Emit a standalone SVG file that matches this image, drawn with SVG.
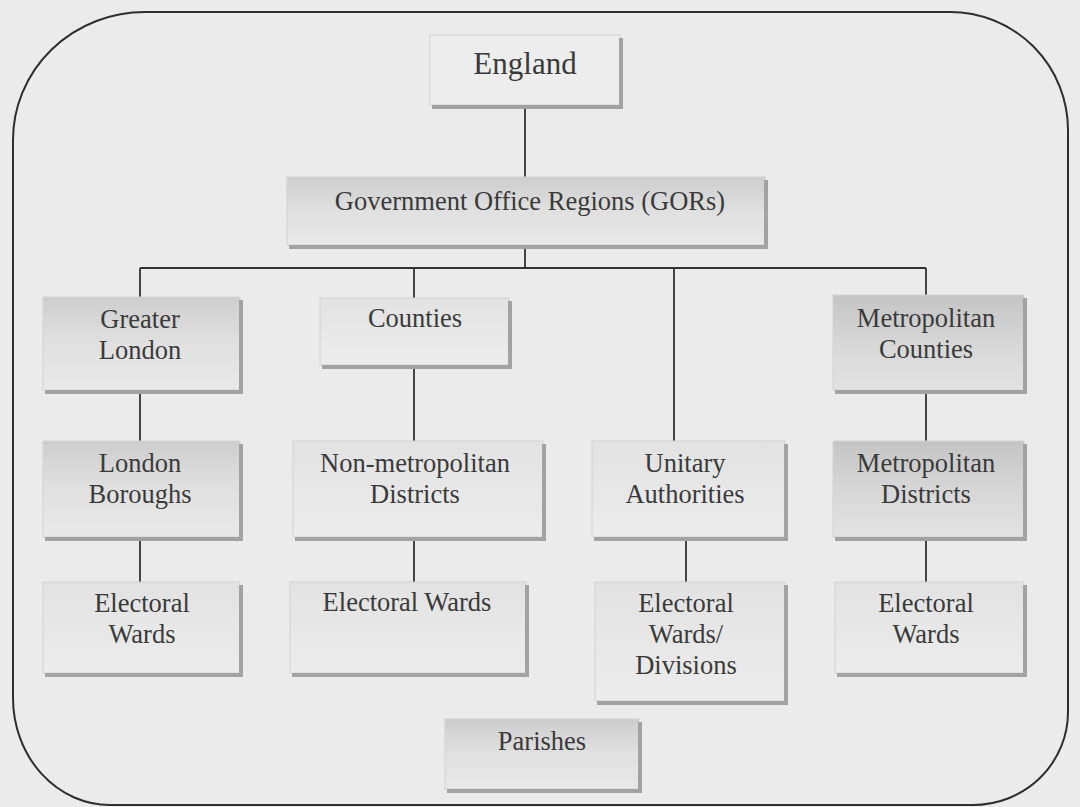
<svg xmlns="http://www.w3.org/2000/svg" width="1080" height="807" viewBox="0 0 1080 807">
  <style>
    .bg { fill: #ebebeb; }
    .frame { fill: none; stroke: #2e2e2e; stroke-width: 2; }
    .body { stroke: #d2d2d2; stroke-width: 1; }
    .shade { fill: none; stroke: #a2a2a2; stroke-width: 4; }
    .lbl { font-family: "Liberation Serif", "Times New Roman", serif; font-size: 26.5px; fill: #3a3a3a; text-anchor: middle; }
    .big { font-size: 31px; }
    .wire { stroke: #333333; stroke-width: 1.8; fill: none; }
  </style>
  <defs>
    <linearGradient id="gDark" x1="0" y1="0" x2="0" y2="1">
      <stop offset="0" stop-color="#c4c4c4"/>
      <stop offset="0.55" stop-color="#d8d8d8"/>
      <stop offset="1" stop-color="#e2e2e2"/>
    </linearGradient>
    <linearGradient id="gMid" x1="0" y1="0" x2="0" y2="1">
      <stop offset="0" stop-color="#cdcdcd"/>
      <stop offset="0.5" stop-color="#e0e0e0"/>
      <stop offset="1" stop-color="#e8e8e8"/>
    </linearGradient>
    <linearGradient id="gLight" x1="0" y1="0" x2="0" y2="1">
      <stop offset="0" stop-color="#e2e2e2"/>
      <stop offset="1" stop-color="#ececec"/>
    </linearGradient>
  </defs>

  <rect class="bg" x="0" y="0" width="1080" height="807"/>

  <!-- rounded outer frame -->
  <path class="frame" d="M 13 140 A 132 128 0 0 1 145 12 L 950 12 A 118 118 0 0 1 1068 130 L 1068 712 A 95 93 0 0 1 973 805 L 110 805 A 97 107 0 0 1 13 698 Z"/>

  <!-- connectors -->
  <g id="connectors">
    <line class="wire" x1="525" y1="108" x2="525" y2="177"/>
    <line class="wire" x1="525" y1="248" x2="525" y2="268"/>
    <line class="wire" x1="140" y1="268" x2="926" y2="268"/>
    <line class="wire" x1="140" y1="268" x2="140" y2="297"/>
    <line class="wire" x1="414" y1="268" x2="414" y2="298"/>
    <line class="wire" x1="674" y1="268" x2="674" y2="441"/>
    <line class="wire" x1="926" y1="268" x2="926" y2="295"/>
    <line class="wire" x1="140" y1="393" x2="140" y2="441"/>
    <line class="wire" x1="414" y1="368" x2="414" y2="441"/>
    <line class="wire" x1="926" y1="393" x2="926" y2="441"/>
    <line class="wire" x1="140" y1="540" x2="140" y2="582"/>
    <line class="wire" x1="414" y1="540" x2="414" y2="582"/>
    <line class="wire" x1="686" y1="540" x2="686" y2="582"/>
    <line class="wire" x1="926" y1="540" x2="926" y2="582"/>
  </g>

  <g id="england">
    <rect class="body" x="430" y="35" width="190" height="70" fill="#ededed"/>
    <path class="shade" d="M 621 38 V 107 H 432"/>
    <text class="lbl big" x="525" y="74">England</text>
  </g>

  <g id="gors">
    <rect class="body" x="287" y="177" width="478" height="68" fill="url(#gMid)"/>
    <path class="shade" d="M 766 180 V 247 H 289"/>
    <text class="lbl" x="530" y="210">Government Office Regions (GORs)</text>
  </g>

  <g id="greater-london">
    <rect class="body" x="43" y="297" width="197" height="93" fill="url(#gMid)"/>
    <path class="shade" d="M 241 300 V 392 H 45"/>
    <text class="lbl" x="140" y="328">Greater</text>
    <text class="lbl" x="140" y="359">London</text>
  </g>

  <g id="counties">
    <rect class="body" x="320" y="298" width="189" height="67" fill="url(#gLight)"/>
    <path class="shade" d="M 510 301 V 367 H 322"/>
    <text class="lbl" x="415" y="327">Counties</text>
  </g>

  <g id="metropolitan-counties">
    <rect class="body" x="833" y="295" width="191" height="95" fill="url(#gDark)"/>
    <path class="shade" d="M 1025 298 V 392 H 835"/>
    <text class="lbl" x="926" y="327">Metropolitan</text>
    <text class="lbl" x="926" y="358">Counties</text>
  </g>

  <g id="london-boroughs">
    <rect class="body" x="43" y="441" width="197" height="96" fill="url(#gMid)"/>
    <path class="shade" d="M 241 444 V 539 H 45"/>
    <text class="lbl" x="140" y="472">London</text>
    <text class="lbl" x="140" y="503">Boroughs</text>
  </g>

  <g id="non-metropolitan-districts">
    <rect class="body" x="293" y="441" width="250" height="96" fill="url(#gLight)"/>
    <path class="shade" d="M 544 444 V 539 H 295"/>
    <text class="lbl" x="415" y="472">Non-metropolitan</text>
    <text class="lbl" x="415" y="503">Districts</text>
  </g>

  <g id="unitary-authorities">
    <rect class="body" x="592" y="441" width="193" height="96" fill="url(#gLight)"/>
    <path class="shade" d="M 786 444 V 539 H 594"/>
    <text class="lbl" x="685" y="472">Unitary</text>
    <text class="lbl" x="685" y="503">Authorities</text>
  </g>

  <g id="metropolitan-districts">
    <rect class="body" x="833" y="441" width="191" height="96" fill="url(#gDark)"/>
    <path class="shade" d="M 1025 444 V 539 H 835"/>
    <text class="lbl" x="926" y="472">Metropolitan</text>
    <text class="lbl" x="926" y="503">Districts</text>
  </g>

  <g id="electoral-wards-london">
    <rect class="body" x="43" y="582" width="197" height="91" fill="url(#gLight)"/>
    <path class="shade" d="M 241 585 V 675 H 45"/>
    <text class="lbl" x="142" y="612">Electoral</text>
    <text class="lbl" x="142" y="643">Wards</text>
  </g>

  <g id="electoral-wards-districts">
    <rect class="body" x="290" y="582" width="236" height="91" fill="url(#gLight)"/>
    <path class="shade" d="M 527 585 V 675 H 292"/>
    <text class="lbl" x="407" y="611">Electoral Wards</text>
  </g>

  <g id="electoral-wards-divisions">
    <rect class="body" x="595" y="582" width="190" height="119" fill="url(#gLight)"/>
    <path class="shade" d="M 786 585 V 703 H 597"/>
    <text class="lbl" x="686" y="612">Electoral</text>
    <text class="lbl" x="686" y="643">Wards/</text>
    <text class="lbl" x="686" y="674">Divisions</text>
  </g>

  <g id="electoral-wards-metropolitan">
    <rect class="body" x="835" y="582" width="189" height="91" fill="url(#gLight)"/>
    <path class="shade" d="M 1025 585 V 675 H 837"/>
    <text class="lbl" x="926" y="612">Electoral</text>
    <text class="lbl" x="926" y="643">Wards</text>
  </g>

  <g id="parishes">
    <rect class="body" x="445" y="719" width="194" height="70" fill="url(#gMid)"/>
    <path class="shade" d="M 640 722 V 791 H 447"/>
    <text class="lbl" x="542" y="750">Parishes</text>
  </g>
</svg>
